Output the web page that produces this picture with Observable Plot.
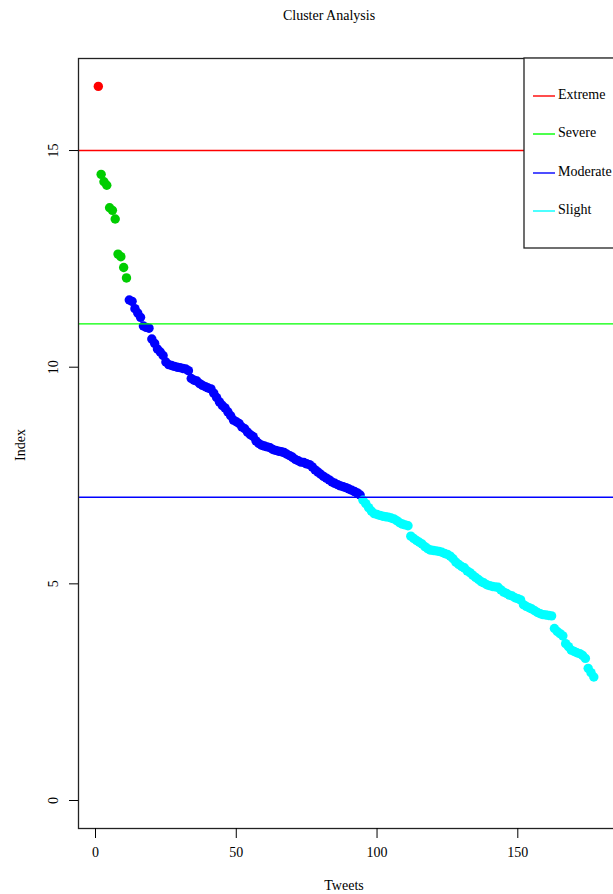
<!DOCTYPE html>
<html>
<head>
<meta charset="utf-8">
<script src="https://cdn.jsdelivr.net/npm/d3@7"></script>
<script src="https://cdn.jsdelivr.net/npm/@observablehq/plot@0.6"></script>
<style>
  html, body { margin: 0; padding: 0; background: #fff; }
  #chart svg { display: block; }
</style>
</head>
<body>
<div id="chart"></div>
<script>
// ---- data ----
const titleText = "Cluster Analysis";
const xLabel = "Tweets";
const yLabel = "Index";
const xTicks = [0, 50, 100, 150];
const yTicks = [0, 5, 10, 15];

const clusterNames = ["Extreme", "Severe", "Moderate", "Slight"];
const clusterSizes = [1, 10, 83, 83];
const pointColors = ["#FF0000", "#00CD00", "#0000FF", "#00FFFF"];
const lineColors = ["#FF0000", "#00FF00", "#0000FF", "#00FFFF"];
const thresholds = [15, 11, 7];

const indexValues = [
  16.48,
  14.45, 14.28, 14.2, 13.68, 13.62, 13.42, 12.61, 12.55, 12.3, 12.06,
  11.55, 11.52, 11.35, 11.25, 11.15, 10.95, 10.92, 10.9, 10.65, 10.55,
  10.42, 10.35, 10.27, 10.12, 10.06, 10.04, 10.02, 10.0, 9.99, 9.97,
  9.96, 9.92, 9.74, 9.7, 9.68, 9.62, 9.58, 9.55, 9.52, 9.5,
  9.4, 9.3, 9.2, 9.12, 9.06, 8.97, 8.88, 8.78, 8.74, 8.7,
  8.62, 8.58, 8.5, 8.44, 8.4, 8.3, 8.24, 8.2, 8.18, 8.16,
  8.14, 8.1, 8.08, 8.06, 8.05, 8.03, 7.99, 7.96, 7.92, 7.87,
  7.84, 7.81, 7.8, 7.77, 7.75, 7.7, 7.63, 7.58, 7.53, 7.48,
  7.44, 7.4, 7.35, 7.32, 7.29, 7.26, 7.24, 7.22, 7.19, 7.16,
  7.13, 7.1, 7.05,
  6.93, 6.85, 6.76, 6.68, 6.62, 6.6, 6.58, 6.56, 6.55, 6.54,
  6.52, 6.5, 6.46, 6.41, 6.38, 6.36, 6.34, 6.1, 6.05, 6.0,
  5.96, 5.92, 5.86, 5.81, 5.78, 5.77, 5.76, 5.75, 5.73, 5.7,
  5.68, 5.64, 5.58, 5.5, 5.45, 5.4, 5.37, 5.3, 5.26, 5.2,
  5.15, 5.1, 5.05, 5.02, 4.98, 4.96, 4.94, 4.93, 4.92, 4.86,
  4.81, 4.78, 4.74, 4.72, 4.68, 4.66, 4.63, 4.52, 4.48, 4.45,
  4.42, 4.38, 4.34, 4.31, 4.29, 4.28, 4.27, 4.26, 3.97, 3.9,
  3.85, 3.8, 3.62, 3.55, 3.47, 3.44, 3.41, 3.39, 3.35, 3.28,
  3.05, 2.95, 2.85
];

// ---- build table ----
const clusterOf = [];
clusterSizes.forEach((n, k) => { for (let j = 0; j < n; j++) clusterOf.push(clusterNames[k]); });
const data = indexValues.map((v, i) => ({ tweet: i + 1, index: v, cluster: clusterOf[i] }));

const W = 613, H = 894;
const font = "'Liberation Serif', 'DejaVu Serif', serif";

const chart = Plot.plot({
  width: W,
  height: H,
  marginLeft: 78,
  marginRight: -2,
  marginTop: 58,
  marginBottom: 66,
  x: { domain: [-6.04, 184.7] },
  y: { domain: [-0.646, 17.124] },
  color: { domain: clusterNames, range: pointColors },
  style: { fontFamily: font, fontSize: "14px", background: "#fff", color: "#000" },
  marks: [
    Plot.dot(data, { x: "tweet", y: "index", fill: "cluster", r: 4.7, stroke: "none" }),
    ...thresholds.map((t, i) => Plot.ruleY([t], { stroke: lineColors[i], strokeWidth: 1.4 })),
    Plot.frame({ stroke: "#222", strokeWidth: 1.3 }),
    Plot.axisX({ ticks: xTicks, tickSize: 10, tickPadding: 9, label: null, tickFormat: d => String(d), fontSize: 14 }),
    Plot.axisY({ ticks: yTicks, tickSize: 9, label: null, tickFormat: () => "" }),
    Plot.text(yTicks, { y: d => d, frameAnchor: "left", dx: -25, rotate: -90, text: d => String(d), fontSize: 14, textAnchor: "middle", lineAnchor: "middle" })
  ]
});

const svg = d3.select(chart);
// title
svg.append("text").attr("x", 329).attr("y", 17).attr("text-anchor", "middle").attr("dominant-baseline", "middle")
  .attr("font-family", font).attr("font-size", 14).attr("fill", "#000").text(titleText);
// axis titles
svg.append("text").attr("x", 344).attr("y", 887).attr("text-anchor", "middle").attr("dominant-baseline", "middle")
  .attr("font-family", font).attr("font-size", 14).attr("fill", "#000").text(xLabel);
svg.append("text").attr("transform", "translate(22,445) rotate(-90)").attr("text-anchor", "middle").attr("dominant-baseline", "middle")
  .attr("font-family", font).attr("font-size", 14).attr("fill", "#000").text(yLabel);

// legend (top right, inside plot area)
const lg = svg.append("g");
lg.append("rect").attr("x", 524).attr("y", 58).attr("width", 120).attr("height", 190)
  .attr("fill", "#fff").attr("stroke", "#222").attr("stroke-width", 1.3);
const rowY = [96, 134, 173, 211];
clusterNames.forEach((name, i) => {
  lg.append("line").attr("x1", 533).attr("x2", 555).attr("y1", rowY[i]).attr("y2", rowY[i])
    .attr("stroke", lineColors[i]).attr("stroke-width", 1.4);
  lg.append("text").attr("x", 558).attr("y", rowY[i]).attr("text-anchor", "start").attr("dominant-baseline", "middle")
    .attr("font-family", font).attr("font-size", 14).attr("fill", "#000").text(name);
});

document.getElementById("chart").appendChild(chart);
</script>
</body>
</html>
